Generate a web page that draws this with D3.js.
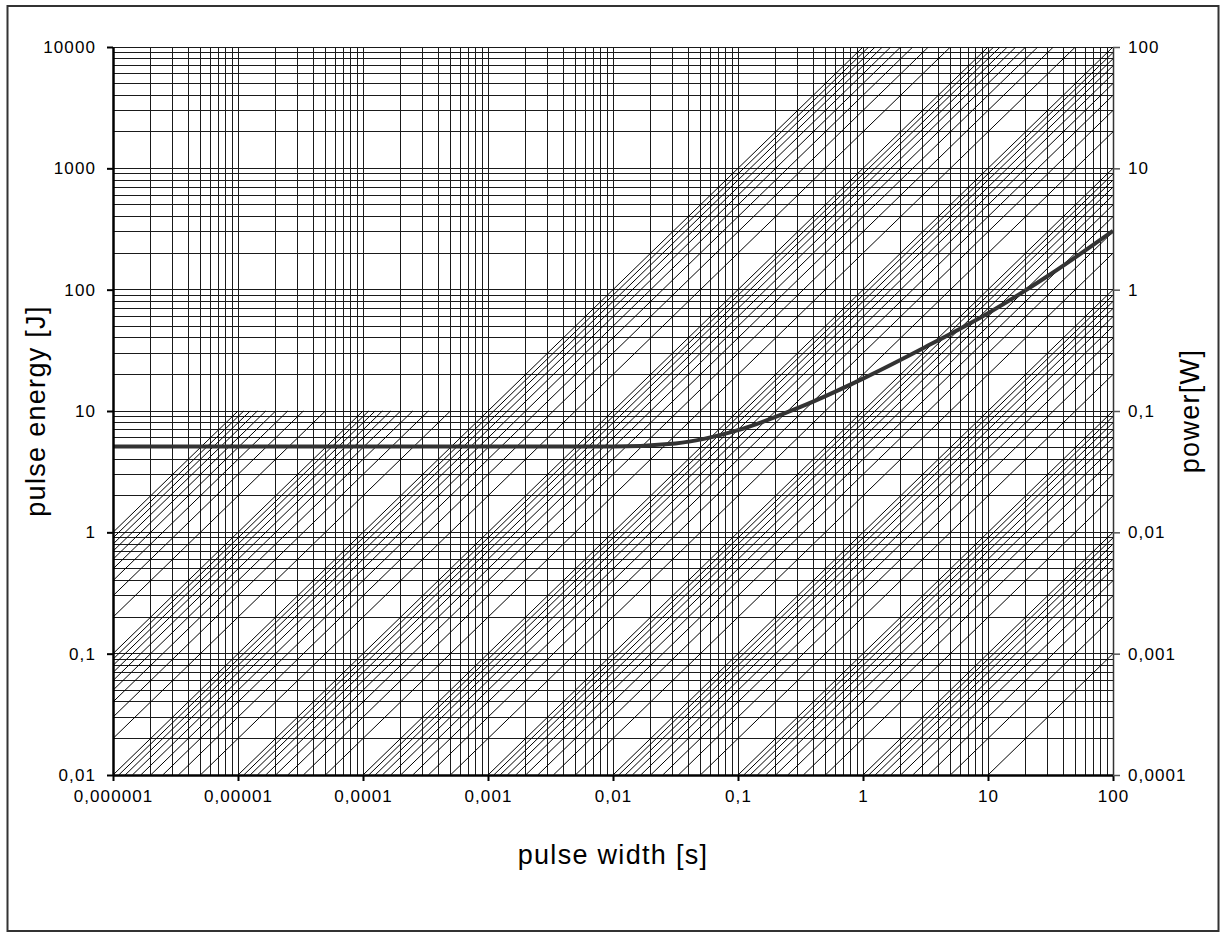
<!DOCTYPE html>
<html>
<head>
<meta charset="utf-8">
<script src="https://cdn.jsdelivr.net/npm/d3@7"></script>
<style>
  body { margin: 0; background: #fff; }
  svg { display: block; font-family: "Liberation Sans", Arial, sans-serif; }
</style>
</head>
<body>
<div id="chart"></div>
<script>
const width = 1226;
const height = 937;
const margin = { top: 47, right: 113, bottom: 162, left: 113 };

// axis ticks
const xTickValues = [1e-6, 1e-5, 1e-4, 1e-3, 0.01, 0.1, 1, 10, 100];
const xTickLabels = ["0,000001", "0,00001", "0,0001", "0,001", "0,01", "0,1", "1", "10", "100"];
const yTickValues = [0.01, 0.1, 1, 10, 100, 1000, 10000];
const yTickLabels = ["0,01", "0,1", "1", "10", "100", "1000", "10000"];
const powerTickValues = [0.0001, 0.001, 0.01, 0.1, 1, 10, 100];
const powerTickLabels = ["0,0001", "0,001", "0,01", "0,1", "1", "10", "100"];

// grid steps inside each decade
const gridMultipliers = [1, 2, 3, 4, 5, 6, 7, 8, 9];

// constant power lines E = P * t
const powerExponents = [-3, -2, -1, 0, 1, 2, 3, 4, 5];
const powerMaxLevel = 1e6;
const powerCapLevel = 1e4;   // lines above this power stop at 10 J
const powerCapEnergy = 10;

// measured curve
const pulseWidth = [1e-6, 1e-5, 1e-4, 1e-3, 0.01, 0.0316, 0.1, 0.316, 1, 3.16, 10, 31.6, 100];
const pulseEnergy = [5.1, 5.1, 5.1, 5.1, 5.1, 5.4, 6.95, 10.8, 18.5, 33.7, 64, 134, 305];

const innerW = width - margin.left - margin.right;
const innerH = height - margin.top - margin.bottom;

const svg = d3.select("#chart")
  .append("svg")
  .attr("width", width)
  .attr("height", height);

svg.append("rect")
  .attr("x", 7.5).attr("y", 6)
  .attr("width", 1211).attr("height", 925)
  .attr("fill", "none")
  .attr("stroke", "#333")
  .attr("stroke-width", 2);

const xScale = d3.scaleLog().domain([1e-6, 100]).range([margin.left, margin.left + innerW]);
const yScale = d3.scaleLog().domain([0.01, 10000]).range([margin.top + innerH, margin.top]);
const pScale = d3.scaleLog().domain([0.0001, 100]).range([margin.top + innerH, margin.top]);

svg.append("clipPath").attr("id", "plot-clip")
  .append("rect")
  .attr("x", margin.left).attr("y", margin.top)
  .attr("width", innerW).attr("height", innerH);

// grid values
const xGrid = [];
xTickValues.slice(0, -1).forEach(d => gridMultipliers.forEach(m => xGrid.push(d * m)));
xGrid.push(100);
const yGrid = [];
yTickValues.slice(0, -1).forEach(d => gridMultipliers.forEach(m => yGrid.push(d * m)));
yGrid.push(10000);

const grid = svg.append("g").attr("shape-rendering", "crispEdges");

grid.selectAll(".vgrid")
  .data(xGrid)
  .enter()
  .append("line")
  .attr("x1", d => xScale(d)).attr("x2", d => xScale(d))
  .attr("y1", margin.top).attr("y2", margin.top + innerH)
  .attr("stroke", "#1a1a1a")
  .attr("stroke-width", 1);

grid.selectAll(".hgrid")
  .data(yGrid)
  .enter()
  .append("line")
  .attr("y1", d => yScale(d)).attr("y2", d => yScale(d))
  .attr("x1", margin.left).attr("x2", margin.left + innerW)
  .attr("stroke", "#1a1a1a")
  .attr("stroke-width", 1);

// power lines
const powers = [];
powerExponents.forEach(k => gridMultipliers.forEach(m => powers.push(m * Math.pow(10, k))));
powers.push(powerMaxLevel);

const powerSegments = powers.map(p => {
  const eTop = p > powerCapLevel ? powerCapEnergy : 10000;
  const t1 = Math.max(1e-6, 0.01 / p);
  const t2 = Math.min(100, eTop / p);
  return [[t1, p * t1], [t2, p * t2]];
}).filter(s => s[0][0] < s[1][0]);

svg.append("g")
  .attr("clip-path", "url(#plot-clip)")
  .selectAll(".power")
  .data(powerSegments)
  .enter()
  .append("line")
  .attr("class", "power")
  .attr("x1", d => xScale(d[0][0])).attr("y1", d => yScale(d[0][1]))
  .attr("x2", d => xScale(d[1][0])).attr("y2", d => yScale(d[1][1]))
  .attr("stroke", "#000")
  .attr("stroke-width", 1);

// curve
const curve = d3.line()
  .x(d => xScale(d[0]))
  .y(d => yScale(d[1]))
  .curve(d3.curveMonotoneX);

svg.append("path")
  .datum(pulseWidth.map((t, i) => [t, pulseEnergy[i]]))
  .attr("d", curve)
  .attr("fill", "none")
  .attr("stroke", "#333")
  .attr("stroke-width", 4);

// axes
const xAxis = d3.axisBottom(xScale)
  .tickValues(xTickValues)
  .tickFormat((d, i) => xTickLabels[i])
  .tickSize(6).tickSizeOuter(0).tickPadding(9);
const yAxis = d3.axisLeft(yScale)
  .tickValues(yTickValues)
  .tickFormat((d, i) => yTickLabels[i])
  .tickSize(6).tickSizeOuter(0).tickPadding(11);
const pAxis = d3.axisRight(pScale)
  .tickValues(powerTickValues)
  .tickFormat((d, i) => powerTickLabels[i])
  .tickSize(7).tickSizeOuter(0).tickPadding(8);

const gx = svg.append("g")
  .attr("transform", `translate(0, ${margin.top + innerH})`)
  .call(xAxis);
const gy = svg.append("g")
  .attr("transform", `translate(${margin.left}, 0)`)
  .call(yAxis);
const gp = svg.append("g")
  .attr("transform", `translate(${margin.left + innerW}, 0)`)
  .call(pAxis);

[gx, gy].forEach(g => {
  g.select(".domain").attr("stroke", "#000").attr("stroke-width", 2.5);
  g.selectAll(".tick line").attr("stroke", "#000").attr("stroke-width", 2);
});
gp.select(".domain").attr("stroke", "#333").attr("stroke-width", 1.5);
gp.selectAll(".tick line").attr("stroke", "#555").attr("stroke-width", 1.5);

svg.selectAll(".tick text")
  .attr("font-family", "Liberation Sans, Arial, sans-serif")
  .attr("font-size", 17)
  .attr("letter-spacing", 1.1)
  .attr("fill", "#000");

// titles
svg.append("text")
  .attr("transform", `translate(45, ${margin.top + innerH / 2}) rotate(-90)`)
  .attr("text-anchor", "middle")
  .attr("font-size", 27)
  .attr("letter-spacing", 1.3)
  .text("pulse energy [J]");

svg.append("text")
  .attr("transform", `translate(1199, ${margin.top + innerH / 2}) rotate(-90)`)
  .attr("text-anchor", "middle")
  .attr("font-size", 27)
  .attr("letter-spacing", 1.3)
  .text("power[W]");

svg.append("text")
  .attr("x", margin.left + innerW / 2)
  .attr("y", 864)
  .attr("text-anchor", "middle")
  .attr("font-size", 27)
  .attr("letter-spacing", 1.3)
  .text("pulse width [s]");
</script>
</body>
</html>
